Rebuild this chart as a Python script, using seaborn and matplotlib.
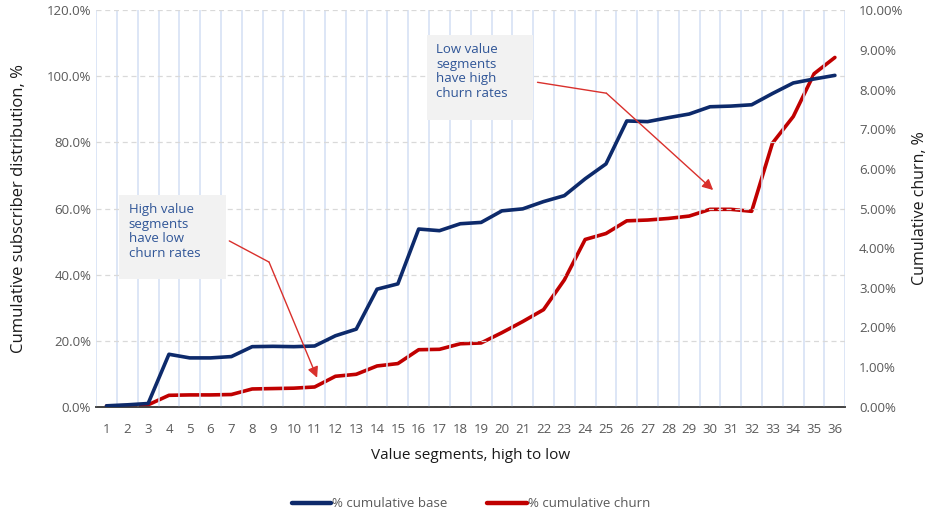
import numpy as np
import pandas as pd
import seaborn as sns
import matplotlib.pyplot as plt
from matplotlib.patches import Rectangle
from matplotlib.lines import Line2D
from matplotlib.ticker import FuncFormatter, MultipleLocator

# values
segments = list(range(1, 37))
cum_base = [0.3, 0.6, 1.0, 15.9, 14.8, 14.8, 15.2, 18.2, 18.3, 18.2, 18.4, 21.5,
            23.5, 35.6, 37.2, 53.8, 53.3, 55.4, 55.8, 59.3, 59.9, 62.1, 63.9, 69.0,
            73.5, 86.5, 86.3, 87.5, 88.6, 90.8, 91.0, 91.4, 94.8, 98.0, 99.2, 100.3]
cum_churn = [0.02, 0.03, 0.05, 0.29, 0.30, 0.30, 0.31, 0.45, 0.46, 0.47, 0.50, 0.77,
             0.82, 1.03, 1.09, 1.44, 1.45, 1.59, 1.61, 1.87, 2.15, 2.45, 3.20, 4.22,
             4.37, 4.69, 4.71, 4.75, 4.81, 4.98, 4.98, 4.93, 6.65, 7.32, 8.40, 8.81]

df = pd.DataFrame({'Segment': segments, 'Base': cum_base, 'Churn': cum_churn})

navy = '#0d2a6b'
red = '#c00000'
note_color = '#2f5597'
tick_color = '#595959'

sns.set_style('white')
plt.rcParams['font.family'] = ['Open Sans', 'DejaVu Sans']

fig = plt.figure(figsize=(9.33, 5.13), dpi=100)
ax = fig.add_axes([0.103, 0.207, 0.803, 0.773])
ax2 = ax.twinx()

sns.lineplot(data=df, x='Segment', y='Base', ax=ax, color=navy, linewidth=2.6, zorder=3)
sns.lineplot(data=df, x='Segment', y='Churn', ax=ax2, color=red, linewidth=2.6, zorder=3)

# axes limits and ticks
ax.set_xlim(0.5, 36.5)
ax.set_ylim(0, 120)
ax2.set_ylim(0, 10)
ax.set_xticks(segments)
ax.xaxis.set_minor_locator(MultipleLocator(1, offset=0.5))
ax.yaxis.set_major_locator(MultipleLocator(20))
ax2.yaxis.set_major_locator(MultipleLocator(1))
ax.yaxis.set_major_formatter(FuncFormatter(lambda v, p: f'{v:.1f}%'))
ax2.yaxis.set_major_formatter(FuncFormatter(lambda v, p: f'{v:.2f}%'))

ax.grid(False)
ax2.grid(False)
ax.grid(axis='x', which='minor', color='#d3dff4', linewidth=1.1, zorder=0)
ax.grid(axis='y', which='major', color='#d9d9d9', linestyle=(0, (4, 3)), linewidth=0.9, zorder=0)

for a in (ax, ax2):
    for s in ['top', 'left', 'right']:
        a.spines[s].set_visible(False)
    a.spines['bottom'].set_color('#404040')
    a.spines['bottom'].set_linewidth(1.2)

ax.tick_params(axis='both', which='both', length=0, labelsize=9.5, colors=tick_color)
ax.tick_params(axis='x', pad=12)
ax2.tick_params(axis='y', length=0, labelsize=9.5, colors=tick_color, pad=10)

ax.set_xlabel('Value segments, high to low', fontsize=11, color='#1a1a1a', labelpad=8)
ax.set_ylabel('Cumulative subscriber distribution, %', fontsize=12, color='#1a1a1a', labelpad=14)
ax2.set_ylabel('Cumulative churn, %', fontsize=11.5, color='#1a1a1a', labelpad=6)

# annotation boxes
notes = [
    ('High value\nsegments\nhave low\nchurn rates', (1.62, 38.7), 5.13, 25.4,
     (6.9, 50.2), (8.81, 43.8), (11.12, 8.8)),
    ('Low value\nsegments\nhave high\nchurn rates', (16.39, 86.8), 5.08, 25.7,
     (21.71, 98.2), (25.02, 94.9), (30.15, 65.6)),
]
for text, (bx, by), bw, bh, start, bend, tip in notes:
    ax.add_patch(Rectangle((bx, by), bw, bh, facecolor='#f2f2f2', edgecolor='none', zorder=4))
    ax.text(bx + 0.45, by + bh - 2.5, text, fontsize=9.5, color=note_color,
            va='top', ha='left', linespacing=1.15, zorder=5)
    ax.plot([start[0], bend[0]], [start[1], bend[1]], color='#d9302c', linewidth=1.0, zorder=5)
    ax.annotate('', xy=tip, xytext=bend,
                arrowprops=dict(arrowstyle='-|>', color='#d9302c', lw=1.0,
                                mutation_scale=16, shrinkA=0, shrinkB=0), zorder=5)

ax.set_zorder(ax2.get_zorder() + 1)
ax.patch.set_visible(False)

handles = [Line2D([], [], color=navy, linewidth=3.2), Line2D([], [], color=red, linewidth=3.2)]
fig.legend(handles, ['% cumulative base', '% cumulative churn'], loc='lower center',
           bbox_to_anchor=(0.505, -0.018), ncol=2, frameon=False, fontsize=9.5,
           handlelength=3.0, handletextpad=0.1, columnspacing=3.0, labelcolor=tick_color)

fig.savefig('out.png', dpi=100)
